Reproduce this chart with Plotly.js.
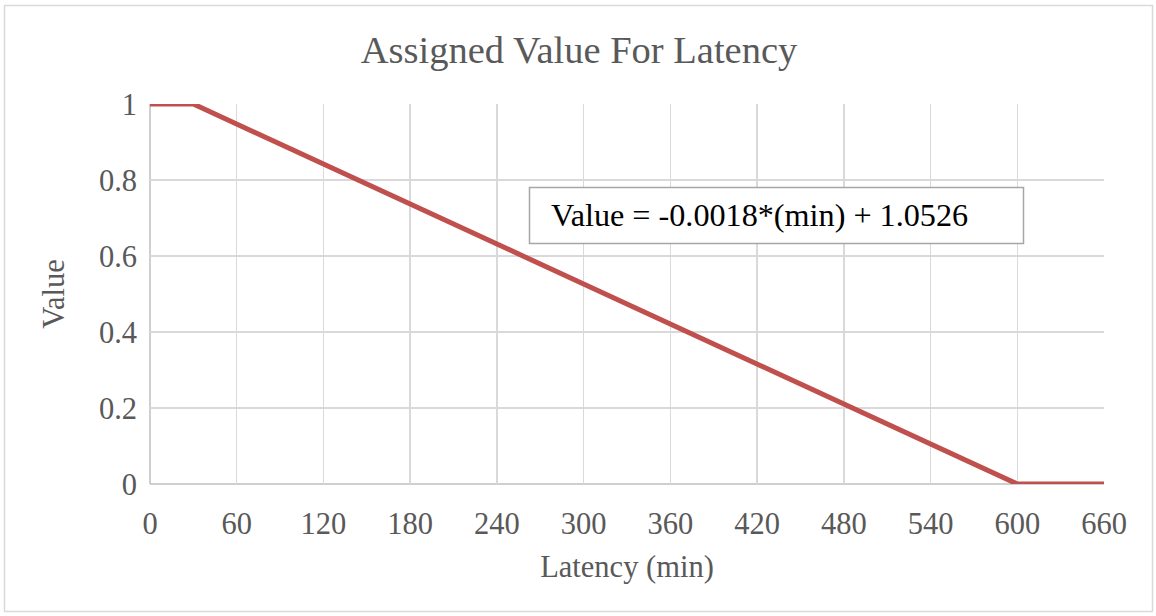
<!DOCTYPE html>
<html>
<head>
<meta charset="utf-8">
<script src="https://cdn.plot.ly/plotly-3.0.1.min.js"></script>
<style>
  html, body { margin: 0; padding: 0; background: #ffffff; }
  #chart { width: 1156px; height: 616px; }
</style>
</head>
<body>
<div id="chart"></div>
<script>
// Piecewise latency-to-value mapping
const latencyMin = [0, 30, 600, 660];
const assignedValue = [1, 1, 0, 0];

// Axis ticks
const xTickVals = [0, 60, 120, 180, 240, 300, 360, 420, 480, 540, 600, 660];
const yTickVals = [0, 0.2, 0.4, 0.6, 0.8, 1];
const yTickText = ['0', '0.2', '0.4', '0.6', '0.8', '1'];

const chartTitle = 'Assigned Value For Latency';
const xTitle = 'Latency (min)';
const yTitle = 'Value';
const equationText = 'Value = -0.0018*(min) + 1.0526';

const W = 1156, H = 616;
const margin = { l: 150, r: 52, t: 104, b: 132 };
const plotW = W - margin.l - margin.r;
const plotH = H - margin.t - margin.b;

// convert page pixels to paper fractions (for frame and text box)
const px = x => (x - margin.l) / plotW;
const py = y => (H - margin.b - y) / plotH;

const serif = 'Liberation Serif, Times New Roman, serif';
const gray = '#595959';

const trace = {
  x: latencyMin,
  y: assignedValue,
  type: 'scatter',
  mode: 'lines',
  line: { color: '#c0504d', width: 5 },
  hoverinfo: 'x+y'
};

const layout = {
  width: W,
  height: H,
  margin: margin,
  paper_bgcolor: '#ffffff',
  plot_bgcolor: '#ffffff',
  showlegend: false,
  font: { family: serif, color: gray, size: 30 },
  title: {
    text: chartTitle,
    font: { family: serif, size: 38.5, color: gray },
    xref: 'container',
    x: 579 / W,
    xanchor: 'center',
    yref: 'container',
    y: 1 - 50 / H,
    yanchor: 'middle'
  },
  xaxis: {
    range: [0, 660],
    tickvals: xTickVals,
    ticktext: xTickVals.map(String),
    showgrid: true,
    gridcolor: '#d9d9d9',
    gridwidth: 1.5,
    zeroline: false,
    showline: false,
    ticks: '',
    ticklabelstandoff: 18,
    tickfont: { family: serif, size: 30.5, color: gray },
    title: { text: xTitle, font: { family: serif, size: 30.5, color: gray }, standoff: 16 },
    fixedrange: true
  },
  yaxis: {
    range: [0, 1],
    tickvals: yTickVals,
    ticktext: yTickText,
    showgrid: true,
    gridcolor: '#d9d9d9',
    gridwidth: 1.5,
    zeroline: false,
    showline: false,
    ticks: '',
    ticklabelstandoff: 12,
    tickfont: { family: serif, size: 30.5, color: gray },
    title: { text: yTitle, font: { family: serif, size: 30.5, color: gray }, standoff: 25 },
    fixedrange: true
  },
  shapes: [
    // axis base lines
    { type: 'line', xref: 'paper', yref: 'paper', x0: 0, x1: 1, y0: 0, y1: 0,
      line: { color: '#bfbfbf', width: 1.5 }, layer: 'below' },
    { type: 'line', xref: 'paper', yref: 'paper', x0: 0, x1: 0, y0: 0, y1: 1,
      line: { color: '#bfbfbf', width: 1.5 }, layer: 'below' },
    // chart frame
    { type: 'rect', xref: 'paper', yref: 'paper',
      x0: px(4.5), x1: px(1152.5), y0: py(5.5), y1: py(611.5),
      line: { color: '#d9d9d9', width: 1.5 }, fillcolor: 'rgba(0,0,0,0)', layer: 'below' },
    // equation text box
    { type: 'rect', xref: 'paper', yref: 'paper',
      x0: px(529.5), x1: px(1023.5), y0: py(187.5), y1: py(243.5),
      line: { color: '#a6a6a6', width: 1.5 }, fillcolor: '#ffffff', layer: 'above' }
  ],
  annotations: [
    {
      text: equationText,
      xref: 'paper', yref: 'paper',
      x: px(549), y: py(215),
      xanchor: 'left', yanchor: 'middle',
      showarrow: false,
      align: 'left',
      font: { family: serif, size: 32.2, color: '#000000' }
    }
  ]
};

Plotly.newPlot('chart', [trace], layout, { displayModeBar: false, staticPlot: true });
</script>
</body>
</html>
